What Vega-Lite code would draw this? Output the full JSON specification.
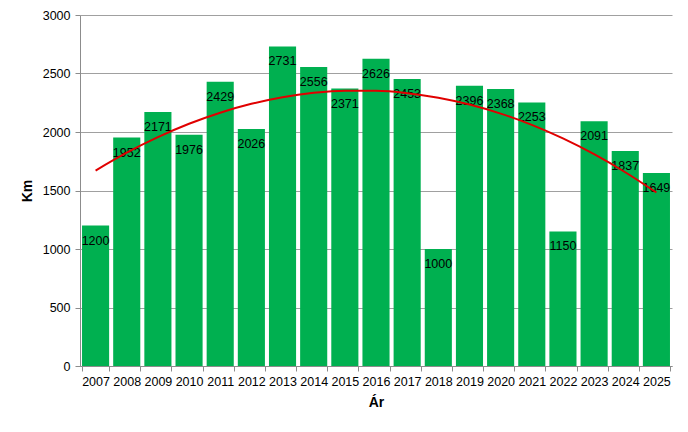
{
  "$schema": "https://vega.github.io/schema/vega-lite/v6.json",
  "autosize": "none",
  "width": 592,
  "height": 351,
  "padding": {"left": 80, "top": 15, "right": 16, "bottom": 66},
  "background": "white",
  "config": {
    "font": "Liberation Sans",
    "view": {"stroke": null},
    "axis": {
      "labelFont": "Liberation Sans",
      "labelFontSize": 12.5,
      "labelColor": "#000000",
      "titleFont": "Liberation Sans",
      "titleFontSize": 14,
      "titleFontWeight": "bold",
      "titleColor": "#000000",
      "domainColor": "#8c8c8c",
      "tickColor": "#8c8c8c",
      "gridColor": "#a0a0a0",
      "domainWidth": 1,
      "tickSize": 5
    }
  },
  "data": {
    "values": [
      {"year": "2007", "km": 1200, "trend": 1670.6},
      {"year": "2008", "km": 1952, "trend": 1822.9},
      {"year": "2009", "km": 2171, "trend": 1956.0},
      {"year": "2010", "km": 1976, "trend": 2070.1},
      {"year": "2011", "km": 2429, "trend": 2165.0},
      {"year": "2012", "km": 2026, "trend": 2240.7},
      {"year": "2013", "km": 2731, "trend": 2297.3},
      {"year": "2014", "km": 2556, "trend": 2334.7},
      {"year": "2015", "km": 2371, "trend": 2353.0},
      {"year": "2016", "km": 2626, "trend": 2352.2},
      {"year": "2017", "km": 2453, "trend": 2332.2},
      {"year": "2018", "km": 1000, "trend": 2293.1},
      {"year": "2019", "km": 2396, "trend": 2234.7},
      {"year": "2020", "km": 2368, "trend": 2157.3},
      {"year": "2021", "km": 2253, "trend": 2060.8},
      {"year": "2022", "km": 1150, "trend": 1945.1},
      {"year": "2023", "km": 2091, "trend": 1810.2},
      {"year": "2024", "km": 1837, "trend": 1656.1},
      {"year": "2025", "km": 1649, "trend": 1483.0}
    ]
  },
  "encoding": {
    "x": {
      "field": "year",
      "type": "ordinal",
      "title": "Ár",
      "scale": {"paddingInner": 0.13, "paddingOuter": 0.065},
      "axis": {"labelAngle": 0, "tickBand": "extent", "labelPadding": 4, "titlePadding": 8}
    }
  },
  "layer": [
    {
      "mark": {"type": "bar", "color": "#00b050"},
      "encoding": {
        "y": {
          "field": "km",
          "type": "quantitative",
          "title": "Km",
          "scale": {"domain": [0, 3000]},
          "axis": {"values": [0, 500, 1000, 1500, 2000, 2500, 3000], "format": "d", "grid": true, "labelPadding": 5, "titlePadding": 8}
        }
      }
    },
    {
      "mark": {"type": "text", "baseline": "middle", "align": "center", "dy": 15, "fontSize": 12.5, "color": "#000000"},
      "encoding": {
        "y": {"field": "km", "type": "quantitative"},
        "text": {"field": "km", "type": "quantitative", "format": "d"}
      }
    },
    {
      "mark": {"type": "line", "color": "#e00000", "strokeWidth": 2, "interpolate": "monotone"},
      "encoding": {
        "y": {"field": "trend", "type": "quantitative"}
      }
    }
  ]
}
